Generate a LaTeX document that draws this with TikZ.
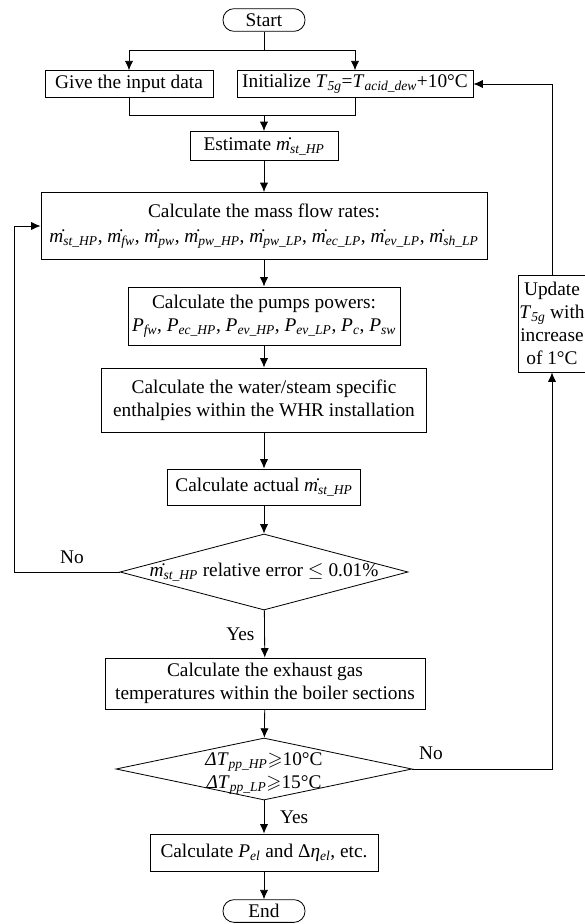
\documentclass[tikz,border=0pt]{standalone}
\usepackage{fontspec}
\usepackage{amssymb}
\setmainfont{Liberation Serif}
\usetikzlibrary{shapes.geometric,arrows.meta}

\newcommand{\mflow}[1]{\.{\textit{m}}\textsubscript{\textit{#1}}}
\newcommand{\vsub}[2]{\textit{#1}\textsubscript{\textit{#2}}}

\begin{document}
\begin{tikzpicture}[x=0.03cm, y=-0.03cm,
    font=\fontsize{16.5}{19.5}\selectfont,
    process/.style={rectangle, draw=black, line width=0.7pt, align=center,
        inner sep=2pt},
    terminal/.style={rectangle, rounded corners=0.33cm, draw=black,
        line width=0.7pt, minimum width=2.46cm, minimum height=0.68cm, inner sep=0pt},
    decision/.style={diamond, draw=black, line width=0.7pt, inner sep=0pt},
    flow/.style={line width=0.7pt, -{Latex[length=8pt, width=7pt]}},
    link/.style={line width=0.7pt}
]
    \useasboundingbox (0,0) rectangle (584,924);

    \node[terminal] (start) at (264,20) {Start};
    \coordinate (split) at (264,50);
    \node[process, minimum width=5.04cm, minimum height=0.8cm] (give) at (129,84) {Give the input data};
    \node[process, minimum width=7.08cm, minimum height=0.8cm] (init) at (355,84)
        {Initialize \vsub{T}{5g}=\vsub{T}{acid\_dew}+10°C};
    \coordinate (join) at (264,115);
    \node[process, minimum width=4.44cm, minimum height=0.87cm] (estimate) at (264,146)
        {Estimate \mflow{st\_HP}};
    \node[process, minimum width=13.38cm, minimum height=2.01cm] (mass) at (264,226)
        {Calculate the mass flow rates:\\[2pt]
         \mflow{st\_HP}, \mflow{fw}, \mflow{pw}, \mflow{pw\_HP}, \mflow{pw\_LP},
         \mflow{ec\_LP}, \mflow{ev\_LP}, \mflow{sh\_LP}};
    \node[process, minimum width=8.16cm, minimum height=1.74cm] (pump) at (264,316)
        {Calculate the pumps powers:\\
         \vsub{P}{fw}, \vsub{P}{ec\_HP}, \vsub{P}{ev\_HP}, \vsub{P}{ev\_LP}, \vsub{P}{c}, \vsub{P}{sw}};
    \node[process, minimum width=9.75cm, minimum height=1.92cm] (enthalpy) at (264,400)
        {Calculate the water/steam specific\\enthalpies within the WHR installation};
    \node[process, minimum width=5.79cm, minimum height=1.08cm] (actual) at (264,487)
        {Calculate actual \mflow{st\_HP}};
    \node[decision, minimum width=8.64cm, minimum height=2.28cm] (check1) at (264,572)
        {\makebox[0pt]{\mflow{st\_HP} relative error $\leq$ 0.01\%}};
    \node[process, minimum width=9.6cm, minimum height=1.53cm] (exhaust) at (265,683.5)
        {Calculate the exhaust gas\\temperatures within the boiler sections};
    \node[decision, minimum width=8.88cm, minimum height=1.86cm] (check2) at (264,769)
        {\smash{\makebox[0pt]{\raisebox{-7pt}{\begin{tabular}{@{}c@{}}
            \textit{Δ}\vsub{T}{pp\_HP}$\geqslant$10°C\\
            \textit{Δ}\vsub{T}{pp\_LP}$\geqslant$15°C\end{tabular}}}}};
    \node[process, minimum width=6.84cm, minimum height=1.11cm] (final) at (264,852.5)
        {Calculate \vsub{P}{el} and Δ\vsub{η}{el}, etc.};
    \node[terminal] (end) at (264,911) {End};
    \node[process, minimum width=1.92cm, minimum height=2.91cm, inner sep=1pt] (update) at (552,323.5)
        {Update\\\vsub{T}{5g} with\\increase\\of 1°C};
    \coordinate (loopleft) at (14,572);

    \draw[link] (start) -- (split);
    \draw[flow] (split) -| (give);
    \draw[flow] (split) -| (init);
    \draw[link] (give) |- (join);
    \draw[link] (init) |- (join);
    \draw[flow] (join) -- (estimate);
    \draw[flow] (estimate) -- (mass);
    \draw[flow] (mass) -- (pump);
    \draw[flow] (pump) -- (enthalpy);
    \draw[flow] (enthalpy) -- (actual);
    \draw[flow] (actual) -- (check1);
    \draw[flow] (check1) -- node[left=5pt] (yes1) {Yes} (exhaust);
    \draw[flow] (check1.west) -- (loopleft) |- (mass.west);
    \node (no1) at (72,557) {No};
    \draw[flow] (exhaust) -- (check2);
    \draw[flow] (check2) -- node[right=10pt, pos=0.5] (yes2) {Yes} (final);
    \draw[flow] (final) -- (end);
    \draw[flow] (check2.east) -| (update.south);
    \node (no2) at (431,753) {No};
    \draw[flow] (update.north) |- (init.east);
\end{tikzpicture}
\end{document}
